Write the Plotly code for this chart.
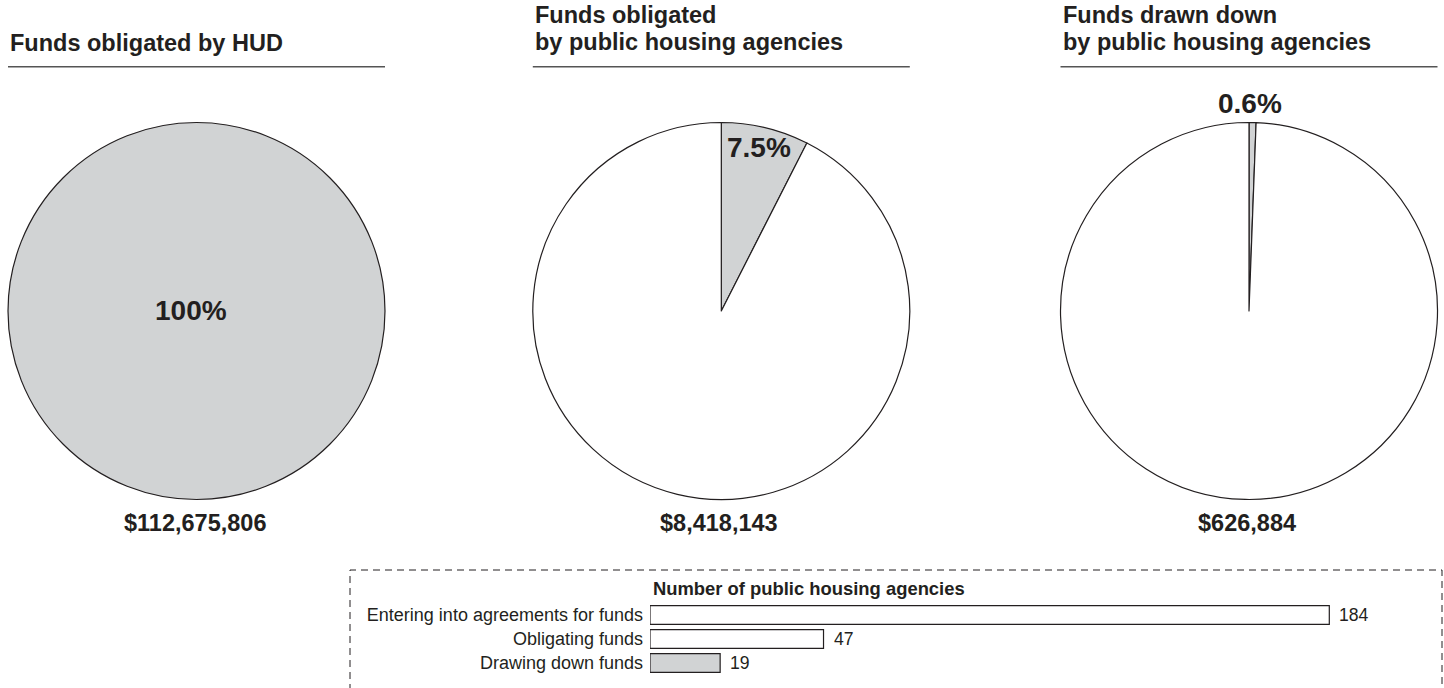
import plotly.graph_objects as go

# ---- data ----
pie_titles = [
    ["Funds obligated by HUD"],
    ["Funds obligated", "by public housing agencies"],
    ["Funds drawn down", "by public housing agencies"],
]
amounts = [112675806, 8418143, 626884]
shares_pct = [100, 7.5, 0.6]

bar_categories = ["Entering into agreements for funds", "Obligating funds", "Drawing down funds"]
bar_values = [184, 47, 19]
bar_header = "Number of public housing agencies"

# ---- styling ----
W, H = 1444, 688
FONT = "Liberation Sans, Arial, Helvetica, sans-serif"
INK = "#231f20"
GRAY = "#d1d3d4"
RULE = "#555555"

# pie geometry in pixels (center x, center y, radius)
pie_cx = [196.5, 721.3, 1249.0]
pie_cy = 311.0
pie_r = 188.5

# label positions for percentages (pixel centers)
pct_pos = [(191, 310.3), (759, 147), (1249.7, 103.6)]


def px_x(x):
    return x / W


def px_y(y):
    return 1 - y / H


fig = go.Figure()

for i, (cx, share) in enumerate(zip(pie_cx, shares_pct)):
    vals = [share, 100 - share]
    cols = [GRAY, "white"]
    keep = [k for k, v in enumerate(vals) if v > 0]
    fig.add_trace(go.Pie(
        values=[vals[k] for k in keep],
        marker=dict(colors=[cols[k] for k in keep], line=dict(color=INK, width=1.2)),
        sort=False,
        direction="clockwise",
        rotation=0,
        textinfo="none",
        hoverinfo="skip",
        showlegend=False,
        domain=dict(x=[px_x(cx - pie_r), px_x(cx + pie_r)],
                    y=[px_y(pie_cy + pie_r), px_y(pie_cy - pie_r)]),
    ))

annotations = []
shapes = []

# titles with rule below
title_baselines = {1: [50.7], 2: [23.3, 50.0]}
for cx, lines in zip(pie_cx, pie_titles):
    left = cx - pie_r
    for ln, base in zip(lines, title_baselines[len(lines)]):
        annotations.append(dict(
            text=f"<b>{ln}</b>", x=px_x(left), y=px_y(base - 0.3465 * 23.5),
            xref="paper", yref="paper", xanchor="left", yanchor="middle",
            showarrow=False, font=dict(size=23.5, color=INK, family=FONT),
        ))
    shapes.append(dict(type="line", xref="paper", yref="paper",
                       x0=px_x(left), x1=px_x(cx + pie_r),
                       y0=px_y(66.7), y1=px_y(66.7),
                       line=dict(color=RULE, width=1.5)))

# percentage labels
for (tx, ty), share in zip(pct_pos, shares_pct):
    annotations.append(dict(
        text=f"<b>{share:g}%</b>", x=px_x(tx), y=px_y(ty),
        xref="paper", yref="paper", xanchor="center", yanchor="middle",
        showarrow=False, font=dict(size=28, color=INK, family=FONT),
    ))

# dollar amounts under each pie
for cx, amt in zip(pie_cx, amounts):
    annotations.append(dict(
        text=f"<b>${amt:,}</b>", x=px_x(cx - 2), y=px_y(531 - 0.3465 * 23.5),
        xref="paper", yref="paper", xanchor="center", yanchor="middle",
        showarrow=False, font=dict(size=23.5, color=INK, family=FONT),
    ))

# ---- bar panel ----
bar_left_px = 650
px_per_unit = 679.3 / 184
axis_width_px = 760
row_top_px, row_bottom_px = 603, 675

fig.add_trace(go.Bar(
    x=bar_values, y=bar_categories, orientation="h",
    marker=dict(color=["white", "white", GRAY], line=dict(color=INK, width=1.2)),
    width=0.775, hoverinfo="skip", showlegend=False,
    xaxis="x", yaxis="y", cliponaxis=False,
))

for cat, v in zip(bar_categories, bar_values):
    annotations.append(dict(
        text=str(v), x=v, y=cat, xref="x", yref="y",
        xanchor="left", yanchor="middle", xshift=8, showarrow=False,
        font=dict(size=17.6, color=INK, family=FONT),
    ))

annotations.append(dict(
    text=f"<b>{bar_header}</b>", x=px_x(651), y=px_y(595 - 0.3465 * 18.4),
    xref="paper", yref="paper", xanchor="left", yanchor="middle",
    showarrow=False, font=dict(size=18.4, color=INK, family=FONT),
))

# dashed frame around the bar panel
shapes.append(dict(type="rect", xref="paper", yref="paper",
                   x0=px_x(350), x1=px_x(1442), y0=px_y(720), y1=px_y(570),
                   line=dict(color=INK, width=1, dash="7px,5px"),
                   fillcolor="rgba(0,0,0,0)", layer="below"))

fig.update_layout(
    width=W, height=H,
    margin=dict(l=0, r=0, t=0, b=0),
    paper_bgcolor="white", plot_bgcolor="white",
    font=dict(family=FONT, color=INK),
    xaxis=dict(domain=[px_x(bar_left_px), px_x(bar_left_px + axis_width_px)],
               range=[0, axis_width_px / px_per_unit],
               visible=False, fixedrange=True),
    yaxis=dict(domain=[px_y(row_bottom_px), px_y(row_top_px)],
               range=[2.5, -0.5], type="category",
               showgrid=False, zeroline=False, showline=False,
               ticks="", ticklabelstandoff=6,
               tickfont=dict(size=18, color=INK, family=FONT), fixedrange=True),
    annotations=annotations,
    shapes=shapes,
)

fig.write_html("out.html")
